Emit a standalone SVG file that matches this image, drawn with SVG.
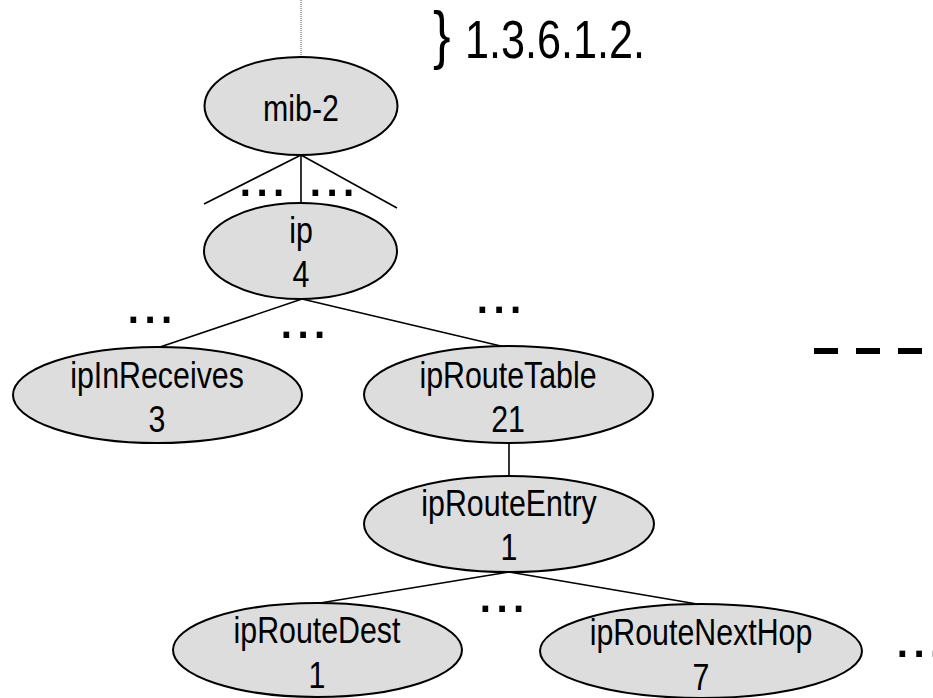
<svg xmlns="http://www.w3.org/2000/svg" width="933" height="698" viewBox="0 0 933 698">
<style>
.node ellipse{fill:#dddddd;stroke:#000;stroke-width:2}
.t{font-family:"Liberation Sans",Arial,sans-serif;font-size:37px;fill:#000;text-anchor:middle}
.dots{font-family:"Liberation Sans",Arial,sans-serif;font-size:60px;fill:#000}
.conn line{stroke:#000;stroke-width:1.6}
</style>
<rect width="933" height="698" fill="#fff"/>
<g id="connectors" class="conn">
  <line x1="301" y1="0" x2="301" y2="57" style="stroke:#555;stroke-width:1;stroke-dasharray:1,1"/>
  <line x1="301" y1="155" x2="204" y2="204"/>
  <line x1="301" y1="155" x2="301" y2="203"/>
  <line x1="301" y1="155" x2="397" y2="208"/>
  <line x1="302" y1="299" x2="160" y2="347"/>
  <line x1="302" y1="299" x2="505" y2="347"/>
  <line x1="509" y1="443" x2="509" y2="476"/>
  <line x1="509" y1="572" x2="320" y2="603"/>
  <line x1="509" y1="572" x2="697" y2="604"/>
</g>
<g id="oid-label">
  <text class="t" transform="translate(433,57) scale(0.82,1)" style="font-size:64px;text-anchor:start">}</text>
  <text class="t" transform="translate(465,58) scale(0.8,1)" style="font-size:54px;text-anchor:start">1.3.6.1.2.</text>
</g>
<g id="mib-2" class="node">
  <ellipse cx="301" cy="106" rx="96.5" ry="49"/>
  <text class="t" transform="translate(301,121) scale(0.82,1)">mib-2</text>
</g>
<g id="ip" class="node">
  <ellipse cx="300.5" cy="251" rx="96.5" ry="48"/>
  <text class="t" transform="translate(301,243) scale(0.82,1)">ip</text>
  <text class="t" transform="translate(301,287) scale(0.82,1)">4</text>
</g>
<g id="ipInReceives" class="node">
  <ellipse cx="157.5" cy="395" rx="144.5" ry="48"/>
  <text class="t" transform="translate(157,388) scale(0.82,1)">ipInReceives</text>
  <text class="t" transform="translate(157,432) scale(0.82,1)">3</text>
</g>
<g id="ipRouteTable" class="node">
  <ellipse cx="508.5" cy="394.5" rx="144.5" ry="48.5"/>
  <text class="t" transform="translate(508,388) scale(0.82,1)">ipRouteTable</text>
  <text class="t" transform="translate(508,432) scale(0.82,1)">21</text>
</g>
<g id="ipRouteEntry" class="node">
  <ellipse cx="509" cy="524" rx="145" ry="48"/>
  <text class="t" transform="translate(509,516) scale(0.82,1)">ipRouteEntry</text>
  <text class="t" transform="translate(509,560) scale(0.82,1)">1</text>
</g>
<g id="ipRouteDest" class="node">
  <ellipse cx="317.5" cy="650" rx="144.5" ry="47"/>
  <text class="t" transform="translate(317,643) scale(0.82,1)">ipRouteDest</text>
  <text class="t" transform="translate(317,688) scale(0.82,1)">1</text>
</g>
<g id="ipRouteNextHop" class="node">
  <ellipse cx="701" cy="651" rx="161" ry="47"/>
  <text class="t" transform="translate(701,645) scale(0.82,1)">ipRouteNextHop</text>
  <text class="t" transform="translate(701,690) scale(0.82,1)">7</text>
</g>
<g id="ellipses">
  <text class="dots" x="237" y="196">...</text>
  <text class="dots" x="307" y="196">...</text>
  <text class="dots" x="125" y="323">...</text>
  <text class="dots" x="278" y="338">...</text>
  <text class="dots" x="474" y="313">...</text>
  <text class="dots" x="477" y="612">...</text>
  <text class="dots" x="894" y="657">...</text>
</g>
<g id="dashes">
  <line x1="814" y1="351" x2="922" y2="351" style="stroke:#000;stroke-width:6;stroke-dasharray:24,18"/>
</g>
</svg>
